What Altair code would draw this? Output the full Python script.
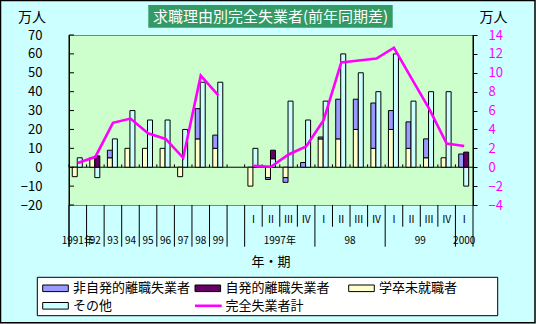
import altair as alt
import pandas as pd

JP = "Noto Sans CJK JP"
W, H = 404, 170

# ---- categories -------------------------------------------------------
cats = ["1991", "1992", "1993", "1994", "1995", "1996", "1997", "1998", "1999", "gap",
        "1997-1", "1997-2", "1997-3", "1997-4",
        "1998-1", "1998-2", "1998-3", "1998-4",
        "1999-1", "1999-2", "1999-3", "1999-4",
        "2000-1"]
quarter_labels = ["", "", "", "", "", "", "", "", "", "",
                  "Ⅰ", "Ⅱ", "Ⅲ", "Ⅳ", "Ⅰ", "Ⅱ", "Ⅲ", "Ⅳ", "Ⅰ", "Ⅱ", "Ⅲ", "Ⅳ", "Ⅰ"]
annual_labels = ["1991年", "92", "93", "94", "95", "96", "97", "98", "99"]
year_labels = ["1997年", "98", "99", "2000"]
year_keys = ["1997", "1998", "1999", "2000"]

names = ["非自発的離職失業者", "自発的離職失業者", "学卒未就職者", "その他", "完全失業者計"]
colors = ["#9999FF", "#660066", "#FFFFCC", "#CCFFFF", "#FF00FF"]

# ---- values (万人) ------------------------------------------------------
gakusotsu = [-5, 5, 5, 10, 10, 10, -5, 15, 10, None,
             -10, -5.5, -5.5, 0, 15, 15, 20, 10, 20, 10, 5, 5, 0]
hijihatsu = [0, 0, 4, 0, 0, 0, 0, 16, 7, None,
             0, -1, -2.5, 2.5, 1, 21, 16, 24, 10, 14, 10, 0, 7]
jihatsu = [0, 6, 0, 0, 0, 0, 0, 0, 0, None,
           0, 4.5, 0, 0, 0, 0, 0, 0, 0, 0, 0, 0, 8]
sonota = [5, -5.5, 15, 30, 25, 25, 20, 45, 45, None,
          10, 4.5, 35, 25, 35, 60, 50, 40, 60, 35, 40, 40, -10]
total = [0.45, 1.1, 4.7, 5.15, 3.6, 3.0, 1.0, 9.7, 7.6, None,
         0.15, 0.05, 1.35, 2.2, 5.0, 11.1, 11.3, 11.5, 12.65, 9.4, 6.2, 2.5, 2.25]

left_ticks = list(range(-20, 80, 10))
right_ticks = list(range(-4, 16, 2))

# ---- tables -------------------------------------------------------------
bar_series = [(names[2], gakusotsu, "c1", 1), (names[0], hijihatsu, "c1", 2),
              (names[3], sonota, "c2", 1), (names[1], jihatsu, "c2", 2)]
rows = []
for name, vals, col, order in bar_series:
    for c, v in zip(cats, vals):
        if v is not None and v != 0:
            rows.append(dict(cat=c, series=name, col=col, order=order, value=v))
bars_df = pd.DataFrame(rows)

line_rows = []
for i, (c, v) in enumerate(zip(cats, total)):
    if v is not None:
        line_rows.append(dict(cat=c, total=v, seg="a" if i < 9 else "q"))
line_df = pd.DataFrame(line_rows)

# group structure for the category axis
groups = [[c] for c in cats[:10]]
for y in year_keys:
    groups.append([c for c in cats if c.startswith(y + "-")])
kinds = []
for g in groups:
    kinds.append(dict(cat=g[0], kind="long"))
    for c in g[1:]:
        kinds.append(dict(cat=c, kind="short"))
bnd_df = pd.DataFrame(kinds)

q_df = pd.DataFrame({"cat": cats, "lab": quarter_labels})
ann_df = pd.DataFrame({"cat": cats[:9], "lab": annual_labels})
grp_even, grp_odd = [], []
for lab, y in zip(year_labels, year_keys):
    g = [c for c in cats if c.startswith(y + "-")]
    if len(g) % 2 == 0:
        grp_even.append(dict(cat=g[len(g) // 2], lab=lab))
    else:
        grp_odd.append(dict(cat=g[len(g) // 2], lab=lab))

# ---- scales -------------------------------------------------------------
xscale = alt.Scale(domain=cats, type="band", paddingInner=0, paddingOuter=0)
yL = alt.Scale(domain=[-20, 70], nice=False, zero=False)
yR = alt.Scale(domain=[-4, 14], nice=False, zero=False)
cscale = alt.Scale(domain=names, range=colors)
left_axis = alt.Axis(orient="left", values=left_ticks, title=None, domain=True,
                     domainColor="black", ticks=False, grid=False, labelFont=JP,
                     labelFontSize=13, labelColor="black", labelPadding=27)


def X(bp):
    return alt.X("cat:N", scale=xscale, axis=None, bandPosition=bp)


one = alt.Chart(pd.DataFrame({"k": [0]}))

# ---- bars -----------------------------------------------------------------
bars = alt.Chart(bars_df).transform_stack(
    stack="value", groupby=["cat", "col"], as_=["v0", "v1"],
    sort=[alt.SortField("order", order="ascending")], offset="zero"
).mark_bar(stroke="black", strokeWidth=1).encode(
    x=alt.X("cat:N", scale=xscale, axis=None),
    xOffset=alt.XOffset("col:N", scale=alt.Scale(domain=["c1", "c2"], paddingInner=0,
                                                  paddingOuter=0.757, align=0.43)),
    y=alt.Y("v0:Q", scale=yL, axis=left_axis),
    y2="v1:Q",
    color=alt.Color("series:N", scale=cscale, legend=None),
)

zero_line = alt.Chart(pd.DataFrame({"v0": [0]})).mark_rule(color="black", strokeWidth=1).encode(
    y=alt.Y("v0:Q", scale=yL, axis=left_axis))

zero_ticks = alt.Chart(bnd_df).transform_calculate(v0="0", z1="1.5").mark_rule(
    color="black", strokeWidth=1).encode(
    x=X(0), y=alt.Y("v0:Q", scale=yL, axis=left_axis), y2="z1:Q")

left_in_ticks = alt.Chart(pd.DataFrame({"v0": left_ticks})).mark_rule(
    color="black", strokeWidth=1).encode(
    y=alt.Y("v0:Q", scale=yL, axis=left_axis), x=alt.value(0), x2=alt.value(5))

left_group = alt.layer(zero_line, bars, zero_ticks, left_in_ticks)

line = alt.Chart(line_df).mark_line(color="#FF00FF", strokeWidth=2.6).encode(
    x=X(0.5),
    y=alt.Y("total:Q", scale=yR,
            axis=alt.Axis(orient="right", values=right_ticks, title=None, domain=True,
                          domainColor="black", ticks=True, tickSize=4, tickColor="black",
                          grid=False, labelFont=JP, labelFontSize=13, labelColor="#FF00FF",
                          labelPadding=11)),
    detail="seg:N",
)

# ---- category axis decorations ---------------------------------------------
long_rules = alt.Chart(bnd_df[bnd_df.kind == "long"]).mark_rule(color="black").encode(
    x=X(0), y=alt.value(H), y2=alt.value(H + 41.7))
short_rules = alt.Chart(bnd_df[bnd_df.kind == "short"]).mark_rule(color="black").encode(
    x=X(0), y=alt.value(H), y2=alt.value(H + 21.7))
left_ext = one.mark_rule(color="black").encode(x=alt.value(0), y=alt.value(0), y2=alt.value(H + 41.7))
right_ext = one.mark_rule(color="black").encode(x=alt.value(W), y=alt.value(0), y2=alt.value(H + 41.7))

q_text = alt.Chart(q_df).mark_text(font=JP, fontSize=10, color="black", baseline="middle").encode(
    x=X(0.5), y=alt.value(H + 15), text="lab:N")
ann_text = alt.Chart(ann_df).mark_text(font=JP, fontSize=10, color="black", baseline="middle").encode(
    x=X(0.5), y=alt.value(H + 35.7), text="lab:N")
grp_text_e = alt.Chart(pd.DataFrame(grp_even)).mark_text(font=JP, fontSize=10, color="black",
                                                          baseline="middle").encode(
    x=X(0), y=alt.value(H + 35.7), text="lab:N")
grp_text_o = alt.Chart(pd.DataFrame(grp_odd)).mark_text(font=JP, fontSize=10, color="black",
                                                         baseline="middle").encode(
    x=X(0.5), y=alt.value(H + 35.7), text="lab:N")

x_title = one.mark_text(text="年・期", font=JP, fontSize=13, color="black",
                        baseline="middle").encode(x=alt.value(W / 2), y=alt.value(H + 56.7))

# ---- titles / units ---------------------------------------------------------
title_box = one.mark_rect(color="#339966").encode(
    x=alt.value(79.3), x2=alt.value(323.7), y=alt.value(-30), y2=alt.value(-7.3))
title_text = one.mark_text(text="求職理由別完全失業者(前年同期差)", font=JP, fontSize=15,
                           color="white", baseline="middle").encode(
    x=alt.value(201.5), y=alt.value(-18.5))
unit_l = one.mark_text(text="万人", font=JP, fontSize=14, color="black", baseline="middle").encode(
    x=alt.value(-37), y=alt.value(-17.5))
unit_r = one.mark_text(text="万人", font=JP, fontSize=14, color="black", baseline="middle").encode(
    x=alt.value(424.5), y=alt.value(-17.5))

# ---- legend ---------------------------------------------------------------
legend_layers = [one.mark_rect(fill="white", stroke="black", strokeWidth=1).encode(
    x=alt.value(-31.7), x2=alt.value(428.7), y=alt.value(242.3), y2=alt.value(280.7))]
col_x = [-26.3, 126.0, 279.7]
row_y = [253.3, 270.8]
for i, (name, colr) in enumerate(zip(names, colors)):
    r, c = divmod(i, 3)
    sx, sy = col_x[c], row_y[r]
    if i < 4:
        legend_layers.append(one.mark_rect(fill=colr, stroke="black", strokeWidth=1).encode(
            x=alt.value(sx), x2=alt.value(sx + 25.6), y=alt.value(sy - 3.3), y2=alt.value(sy + 3.3)))
    else:
        legend_layers.append(one.mark_rule(color=colr, strokeWidth=2.6).encode(
            x=alt.value(sx), x2=alt.value(sx + 26.7), y=alt.value(sy)))
    legend_layers.append(one.mark_text(text=name, font=JP, fontSize=13, color="black",
                                       align="left", baseline="middle").encode(
        x=alt.value(sx + 30.4), y=alt.value(sy)))

frame = one.mark_rect(fill=None, stroke="black", strokeWidth=1.5).encode(
    x=alt.value(-68.5), x2=alt.value(466), y=alt.value(-34.5), y2=alt.value(287.7))

chart = alt.layer(
    left_group, line,
    long_rules, short_rules, left_ext, right_ext,
    q_text, ann_text, grp_text_e, grp_text_o, x_title,
    title_box, title_text, unit_l, unit_r,
    *legend_layers, frame,
).resolve_scale(y="independent").properties(
    width=W, height=H,
    padding={"left": 69, "top": 35, "right": 63, "bottom": 119},
    autosize=alt.AutoSizeParams(type="none"),
).configure(background="#CCFFFF").configure_view(fill="#CCFFCC", stroke="#808080", strokeWidth=1)

chart.save("out.html", embed_options={"renderer": "svg", "actions": False})
